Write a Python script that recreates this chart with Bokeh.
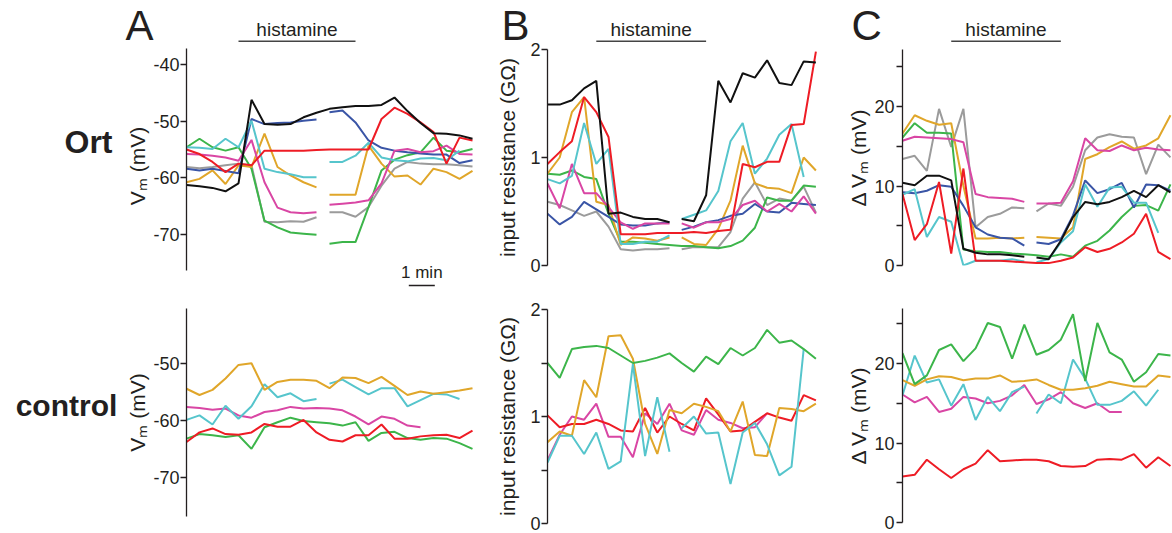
import numpy as np
from bokeh.plotting import figure
from bokeh.models import Range1d, FixedTicker
from bokeh.core.properties import value
from bokeh.layouts import row, column
from bokeh.embed import file_html
from bokeh.resources import INLINE

nan = float("nan")

# time axis (min); recording break between index 10 and 11
time_min = [0.5 * i for i in range(23)]
gap_after = 10
histamine_on = 2.0
histamine_off = 6.5
scale_bar_start = 8.55
scale_bar_len = 1.0

# ---------------- Ort: membrane potential (mV) ----------------
ort_vm_black = [-61.3, -61.5, -61.8, -62.4, -61.0, -46.2, -50.5, -50.6, -50.5, -49.3, -48.5, -47.8, -47.5, -47.3, -47.3, -47.1, -45.8, -48.2, -50.3, -52.1, -52.2, -52.5, -53.1]
ort_vm_red = [-55.0, -55.8, -57.2, -59.0, -57.5, -57.8, -55.2, -55.2, -55.2, -55.2, -55.1, -55.0, -55.0, -55.0, -55.0, -49.6, -47.6, -48.7, -50.2, -51.9, -57.5, -52.9, -53.4]
ort_vm_blue = [-58.4, -58.7, -58.4, -58.8, -59.2, -49.6, -50.5, -50.3, -50.2, -49.9, -49.7, -48.4, -48.1, -50.2, -53.4, -54.7, -55.2, -55.5, -55.7, -55.9, -55.9, -57.4, -56.9]
ort_vm_cyan = [-54.6, -54.7, -54.9, -53.1, -54.6, -49.9, -58.4, -59.0, -59.4, -59.9, -59.9, -57.2, -57.2, -56.1, -53.8, -56.4, -56.9, -57.1, -56.6, -56.5, -56.9, -55.2, nan]
ort_vm_yellow = [-60.8, -60.2, -58.7, -61.1, -57.8, -58.1, -52.2, -58.1, -59.6, -60.8, -61.7, -63.0, -63.0, -63.0, -54.3, -57.5, -59.8, -59.6, -61.2, -58.4, -59.0, -60.2, -58.8]
ort_vm_green = [-54.6, -53.1, -54.6, -55.2, -54.6, -58.4, -67.6, -68.8, -69.7, -69.9, -70.1, -71.7, -71.4, -71.4, -65.2, -58.7, -56.8, -56.0, -55.5, -52.9, -55.2, -55.5, -54.9]
ort_vm_pink = [-55.8, -55.9, -56.1, -56.4, -57.0, -53.3, -60.8, -65.3, -66.1, -66.3, -66.1, -64.8, -64.6, -64.4, -64.0, -61.0, -55.2, -54.9, -55.5, -55.3, -54.3, -55.8, -55.9]
ort_vm_gray = [-58.1, -58.3, -58.1, -57.8, -57.5, -57.8, -67.8, -67.9, -67.7, -67.8, -67.0, -66.1, -66.1, -66.9, -65.2, -61.4, -58.4, -57.2, -57.5, -57.6, -57.6, -57.8, -58.0]

# ---------------- Ort: input resistance (GOhm) ----------------
ort_rin_black = [1.49, 1.49, 1.53, 1.64, 1.71, 0.48, 0.49, 0.45, 0.43, 0.43, 0.40, 0.43, 0.41, 0.65, 1.71, 1.51, 1.78, 1.74, 1.90, 1.69, 1.67, 1.89, 1.88]
ort_rin_red = [0.94, 1.05, 1.15, 1.56, 1.42, 1.19, 0.29, 0.29, 0.29, 0.30, 0.30, 0.30, 0.31, 0.30, 0.32, 0.33, 0.94, 0.91, 0.96, 0.96, 1.30, 1.31, 1.98]
ort_rin_yellow = [0.85, 1.00, 1.42, 1.56, 0.59, 0.56, 0.19, 0.26, 0.25, 0.23, 0.26, 0.26, 0.20, 0.19, 0.34, 0.60, 1.11, 0.76, 0.72, 0.71, 0.67, 1.00, 0.88]
ort_rin_cyan = [0.80, 0.76, 0.83, 1.32, 0.94, 1.08, 0.20, 0.20, 0.22, 0.22, 0.28, 0.43, 0.47, 0.51, 0.69, 1.15, 1.32, 0.85, 0.99, 1.21, 1.31, 0.82, nan]
ort_rin_green = [0.85, 0.84, 0.88, 0.82, 0.80, 0.48, 0.22, 0.22, 0.21, 0.20, 0.19, 0.18, 0.18, 0.17, 0.16, 0.18, 0.23, 0.35, 0.63, 0.60, 0.60, 0.74, 0.73]
ort_rin_pink = [0.76, 0.53, 0.94, 0.67, 0.67, 0.54, 0.40, 0.34, 0.39, 0.39, 0.39, 0.39, 0.35, 0.40, 0.40, 0.43, 0.56, 0.60, 0.50, 0.57, 0.50, 0.64, 0.48]
ort_rin_blue = [0.48, 0.38, 0.45, 0.59, 0.52, 0.45, 0.38, 0.37, 0.37, 0.39, 0.40, 0.33, 0.36, 0.40, 0.42, 0.46, 0.48, 0.57, 0.50, 0.49, 0.58, 0.57, 0.56]
ort_rin_gray = [0.59, 0.56, 0.51, 0.46, 0.50, 0.36, 0.15, 0.14, 0.15, 0.15, 0.16, 0.15, 0.17, 0.17, 0.17, 0.31, 0.62, 0.77, 0.56, 0.62, 0.60, 0.73, 0.49]

# ---------------- Ort: delta Vm (mV) ----------------
ort_dvm_black = [10.4, 10.1, 11.3, 11.3, 10.7, 2.1, 1.6, 1.4, 1.4, 1.3, 1.1, 1.0, 0.8, 3.1, 6.1, 8.0, 7.7, 8.0, 8.6, 9.4, 8.6, 10.1, 9.2]
ort_dvm_red = [9.0, 3.2, 5.2, 10.5, 1.5, 12.2, 0.6, 0.6, 0.6, 0.5, 0.4, 0.3, 0.3, 0.6, 1.0, 2.3, 1.7, 2.1, 2.9, 4.0, 6.5, 1.7, 0.8]
ort_dvm_yellow = [16.6, 18.9, 18.2, 17.7, 17.9, 10.0, 3.4, 3.4, 3.5, 3.4, 3.5, 3.6, 3.5, 3.4, 4.8, 13.4, 14.0, 14.9, 15.6, 14.7, 15.1, 16.0, 18.9]
ort_dvm_green = [16.1, 17.9, 16.7, 16.7, 16.6, 2.0, 1.8, 1.7, 1.7, 1.5, 1.4, 1.3, 1.1, 1.4, 1.1, 2.5, 3.1, 4.4, 6.1, 7.5, 7.6, 6.9, 10.2]
ort_dvm_pink = [15.7, 16.2, 16.1, 16.0, 15.9, 15.5, 9.0, 8.6, 8.5, 8.4, 8.0, 7.8, 7.8, 7.9, 10.6, 16.0, 14.5, 14.4, 15.1, 14.5, 14.8, 14.6, 14.5]
ort_dvm_gray = [13.4, 13.8, 11.9, 19.7, 14.9, 19.7, 4.8, 6.1, 6.5, 7.3, 7.2, 6.8, 7.8, 7.5, 9.9, 14.5, 16.1, 16.5, 16.2, 16.1, 11.5, 15.2, 13.6]
ort_dvm_blue = [9.2, 9.1, 9.4, 10.1, 9.9, 7.5, 4.8, 3.9, 3.5, 3.4, 2.5, 2.9, 2.7, 3.3, 6.3, 10.7, 9.1, 9.6, 10.4, 7.3, 10.2, 10.1, 9.4]
ort_dvm_cyan = [8.9, 9.6, 3.6, 6.1, 5.5, 0.0, 0.6, 0.6, 0.6, 0.8, 0.5, 0.4, 0.8, 2.9, 4.3, 10.2, 7.4, 9.8, 9.9, 7.9, 7.9, 4.1, nan]

# ---------------- control: membrane potential (mV) ----------------
ctl_vm_yellow = [-54.4, -55.5, -54.6, -52.6, -50.2, -49.9, -54.6, -53.2, -52.8, -52.8, -53.0, -54.3, -52.4, -52.5, -53.4, -52.3, -53.9, -55.5, -54.9, -55.3, -55.0, -54.7, -54.3]
ctl_vm_cyan = [-59.9, -59.1, -60.7, -57.4, -59.7, -57.5, -53.6, -55.9, -55.2, -56.6, -56.2, -53.5, -52.8, -54.1, -55.4, -54.3, -54.3, -57.5, -56.4, -55.3, -55.4, -56.2, nan]
ctl_vm_pink = [-57.6, -57.8, -58.1, -57.9, -59.1, -59.5, -58.5, -58.2, -57.6, -57.9, -57.8, -57.9, -58.2, -59.3, -60.7, -59.3, -59.7, -60.9, -61.2, nan, nan, nan, nan]
ctl_vm_red = [-63.8, -62.1, -61.4, -62.4, -62.5, -62.1, -60.6, -61.1, -61.1, -59.9, -62.1, -63.4, -63.7, -62.6, -62.6, -60.7, -63.2, -63.2, -62.8, -62.6, -62.5, -63.1, -61.8]
ctl_vm_green = [-63.2, -62.4, -62.6, -62.9, -62.6, -65.0, -61.2, -60.3, -59.5, -60.1, -60.3, -60.5, -60.9, -60.3, -63.6, -62.2, -62.0, -63.1, -63.4, -63.1, -63.2, -64.0, -65.0]

# ---------------- control: input resistance (GOhm) ----------------
ctl_rin_green = [1.50, 1.36, 1.63, 1.65, 1.66, 1.64, 1.57, 1.50, 1.52, 1.55, 1.59, 1.50, 1.42, 1.56, 1.49, 1.64, 1.57, 1.64, 1.81, 1.69, 1.71, 1.63, 1.54]
ctl_rin_yellow = [0.76, 0.86, 0.82, 1.34, 1.18, 1.75, 1.76, 1.54, 0.93, 0.65, 1.06, 1.03, 1.12, 1.09, 1.05, 0.86, 1.14, 0.64, 0.63, 1.08, 1.07, 1.05, 1.12]
ctl_rin_red = [1.01, 0.90, 0.93, 0.93, 0.97, 0.93, 0.87, 0.86, 1.08, 0.85, 1.00, 0.93, 0.87, 1.17, 1.02, 0.86, 0.87, 0.95, 1.03, 0.99, 0.96, 1.20, 1.15]
ctl_rin_pink = [0.59, 0.83, 1.00, 0.97, 1.12, 0.81, 0.81, 0.62, 1.03, 0.93, 1.12, 0.87, 0.83, 1.06, 0.97, 0.94, 0.89, 0.90, 1.03, nan, nan, nan, nan]
ctl_rin_cyan = [0.57, 0.82, 0.82, 0.65, 0.85, 0.51, 0.58, 1.49, 0.63, 1.18, 0.67, 0.89, 1.00, 0.84, 0.85, 0.37, 0.85, 0.94, 0.74, 0.45, 0.53, 1.63, nan]

# ---------------- control: delta Vm (mV) ----------------
ctl_dvm_green = [21.3, 17.4, 18.5, 21.7, 22.4, 20.3, 21.9, 25.1, 24.6, 20.6, 24.9, 21.1, 21.7, 23.0, 26.2, 17.8, 25.1, 21.4, 20.5, 17.7, 18.9, 21.2, 21.0]
ctl_dvm_yellow = [17.9, 17.2, 18.0, 18.4, 18.3, 17.9, 18.1, 18.1, 18.5, 17.7, 17.8, 18.0, 17.3, 16.7, 16.7, 16.9, 17.2, 17.7, 17.4, 17.1, 17.1, 18.5, 18.3]
ctl_dvm_cyan = [16.0, 21.0, 17.6, 18.0, 14.7, 17.4, 12.9, 15.8, 14.0, 16.4, 17.1, 13.7, 16.1, 15.0, 20.5, 18.1, 14.8, 14.8, 15.3, 16.5, 14.7, 16.7, nan]
ctl_dvm_pink = [16.1, 15.1, 15.8, 13.9, 14.3, 15.8, 15.6, 15.0, 15.3, 16.0, 17.3, 14.9, 15.5, 16.4, 15.0, 14.4, 15.0, 13.9, 13.9, nan, nan, nan, nan]
ctl_dvm_red = [5.8, 6.0, 7.9, 6.7, 5.6, 6.7, 7.4, 9.1, 7.7, 7.8, 7.9, 7.9, 7.7, 7.1, 7.0, 7.1, 7.9, 8.0, 7.9, 8.6, 6.9, 8.2, 7.1]

COLORS = {
    "black": "#111111", "red": "#ee1c25", "green": "#3cb54a", "blue": "#3a55a6",
    "yellow": "#e0a62a", "cyan": "#56c5cc", "pink": "#d946a4", "gray": "#9b9b9b",
}
FONT = "Liberation Sans"
INK = "#231f20"

# ---- page geometry (px) ----
TOTAL_W = 1172
HEADER = (0, 50)        # top, height (panels below overlap its lower part; they are transparent)
OVERLAP = 14
ROW1 = (36, 262)        # canvas top, height
ROW2 = (298, 235)
LABEL_W = 122
# canvas left, width, frame left, frame right, px per minute
COLS = [(122, 368, 186, 475, 26.0), (490, 345, 547, 817, 24.4), (835, 337, 902, 1172, 24.36)]


def blank(width, top, height, xr=None):
    """Figure without axes whose y range is in page pixels (smaller value = higher)."""
    p = figure(width=width, height=height,
               x_range=xr if xr is not None else Range1d(0, width),
               y_range=Range1d(top + height, top),
               x_axis_location=None, y_axis_location=None, min_border=0,
               background_fill_color=None, border_fill_color=None,
               output_backend="svg", toolbar_location=None)
    p.grid.visible = False
    p.outline_line_color = None
    return p


def make_panel(col, rowg, frame_top, frame_bottom, y_top, y_bottom, ticks, labels, ylabel,
               tick_standoff, lab_standoff, bounds=None):
    cl, cw, fl, fr, ppm = col
    ct, ch = rowg
    p = figure(width=cw, height=ch,
               min_border_left=fl - cl, min_border_right=cl + cw - fr,
               min_border_top=frame_top - ct, min_border_bottom=ct + ch - frame_bottom,
               x_range=Range1d(0, (fr - fl) / ppm), y_range=Range1d(y_bottom, y_top),
               background_fill_color=None, border_fill_color=None,
               output_backend="svg", toolbar_location=None)
    p.xaxis.visible = False
    p.grid.visible = False
    p.outline_line_color = None
    ax = p.yaxis[0]
    ax.ticker = FixedTicker(ticks=ticks)
    ax.major_label_overrides = {t: s for t, s in zip(ticks, labels)}
    if bounds is not None:
        ax.bounds = bounds
    ax.axis_label = ylabel
    ax.axis_line_color = INK
    ax.axis_line_width = 1.3
    ax.major_tick_line_color = INK
    ax.major_tick_line_width = 1.3
    ax.major_tick_out = 6
    ax.major_tick_in = 0
    ax.minor_tick_line_color = None
    ax.major_label_text_font = FONT
    ax.major_label_text_font_size = "18px"
    ax.major_label_text_color = INK
    ax.major_label_standoff = tick_standoff
    ax.axis_label_text_font = FONT
    ax.axis_label_text_font_size = "21px"
    ax.axis_label_text_font_style = "normal"
    ax.axis_label_text_color = INK
    ax.axis_label_standoff = lab_standoff
    return p


def draw(p, series, gapped):
    t = np.array(time_min, dtype=float)
    for name, vals in series:
        y = np.array(vals, dtype=float)
        if name in gapped:
            parts = [(t[:gap_after + 1], y[:gap_after + 1]), (t[gap_after + 1:], y[gap_after + 1:])]
        else:
            parts = [(t, y)]
        for xs, ys in parts:
            p.line(xs, ys, line_color=COLORS[name], line_width=2.0)


def col_range(col):
    cl, cw, fl, fr, ppm = col
    return Range1d(-fl / ppm, (TOTAL_W - fl) / ppm)


# ---- header: panel letters, histamine bars (time-aligned with each column) ----
header = blank(TOTAL_W, *HEADER)
header.background_fill_color = "white"
header.border_fill_color = "white"
for key, col, letter_px in zip("ABC", COLS, [125, 501, 851]):
    fl, ppm = col[2], col[4]
    header.extra_x_ranges[key] = col_range(col)
    header.text(x=[(letter_px - fl) / ppm], y=[25], text=[key], x_range_name=key,
                text_font=value(FONT), text_font_size=value("42px"), text_color=INK,
                text_align="left", text_baseline="middle")
    header.text(x=[(histamine_on + histamine_off) / 2], y=[28.5], text=["histamine"], x_range_name=key,
                text_font=value(FONT), text_font_size=value("19px"), text_color=INK,
                text_align="center", text_baseline="middle")
    header.segment(x0=[histamine_on], x1=[histamine_off], y0=[40.8], y1=[40.8],
                   x_range_name=key, line_color="#444444", line_width=1.6)

# ---- row labels ----
lab1 = blank(LABEL_W, *ROW1)
lab1.text(x=[88], y=[141], text=["Ort"], text_font=value(FONT),
          text_font_style=value("bold"), text_font_size=value("32px"), text_color=INK,
          text_align="center", text_baseline="middle")
lab2 = blank(LABEL_W, *ROW2)
lab2.text(x=[66], y=[405], text=["control"], text_font=value(FONT),
          text_font_style=value("bold"), text_font_size=value("30px"), text_color=INK,
          text_align="center", text_baseline="middle")

# ---- top row (Ort) ----
VM_PX = 5.647  # px per mV, panel A (top)
a1 = make_panel(COLS[0], ROW1, 42, 289, -40 + (64.3 - 42) / VM_PX, -40 - (289 - 64.3) / VM_PX,
                [-70, -60, -50, -40], ["-70", "-60", "-50", "-40"], "Vₘ (mV)", 1, 1,
                bounds=(-40 - (270 - 64.3) / VM_PX, -40 + (64.3 - 48) / VM_PX))
draw(a1, [("gray", ort_vm_gray), ("green", ort_vm_green), ("yellow", ort_vm_yellow), ("blue", ort_vm_blue),
          ("pink", ort_vm_pink), ("cyan", ort_vm_cyan), ("red", ort_vm_red), ("black", ort_vm_black)],
     {"gray", "green", "yellow", "blue", "pink", "cyan"})
a1.text(x=[scale_bar_start + scale_bar_len / 2], y=[-40 - (272 - 64.3) / VM_PX], text=["1 min"],
        text_font=value(FONT), text_font_size=value("17px"), text_color=INK,
        text_align="center", text_baseline="middle")
a1.segment(x0=[scale_bar_start], x1=[scale_bar_start + scale_bar_len],
           y0=[-40 - (285 - 64.3) / VM_PX], y1=[-40 - (285 - 64.3) / VM_PX], line_color=INK, line_width=1.5)

b1 = make_panel(COLS[1], ROW1, 49, 265, 2, 0, [0, 1, 2], ["0", "1", "2"], "input resistance (GΩ)", 1, 8)
draw(b1, [("gray", ort_rin_gray), ("green", ort_rin_green), ("yellow", ort_rin_yellow), ("blue", ort_rin_blue),
          ("pink", ort_rin_pink), ("cyan", ort_rin_cyan), ("red", ort_rin_red), ("black", ort_rin_black)],
     {"gray", "yellow", "blue", "pink", "cyan", "black"})

c1 = make_panel(COLS[2], ROW1, 49, 265, 27.17, 0,
                [0, 5, 10, 15, 20, 25], ["0", "", "10", "", "20", ""], "Δ Vₘ (mV)", 2, 1)
draw(c1, [("gray", ort_dvm_gray), ("green", ort_dvm_green), ("yellow", ort_dvm_yellow), ("blue", ort_dvm_blue),
          ("pink", ort_dvm_pink), ("cyan", ort_dvm_cyan), ("red", ort_dvm_red), ("black", ort_dvm_black)],
     {"gray", "yellow", "blue", "pink", "cyan", "black"})

# ---- bottom row (control) ----
a2 = make_panel(COLS[0], ROW2, 308, 516, -40.25, -76.93,
                [-70, -60, -50], ["-70", "-60", "-50"], "Vₘ (mV)", 1, 1)
draw(a2, [("green", ctl_vm_green), ("red", ctl_vm_red), ("pink", ctl_vm_pink), ("cyan", ctl_vm_cyan),
          ("yellow", ctl_vm_yellow)], {"cyan"})

b2 = make_panel(COLS[1], ROW2, 309, 523, 2, 0,
                [0, 0.5, 1, 1.5, 2], ["0", "", "1", "", "2"], "input resistance (GΩ)", 1, 8)
draw(b2, [("pink", ctl_rin_pink), ("red", ctl_rin_red), ("yellow", ctl_rin_yellow), ("cyan", ctl_rin_cyan),
          ("green", ctl_rin_green)], {"cyan"})

c2 = make_panel(COLS[2], ROW2, 308, 522, (522 - 308) / 7.95, 0,
                [0, 5, 10, 15, 20, 25], ["0", "", "10", "", "20", ""], "Δ Vₘ (mV)", 2, 1)
draw(c2, [("red", ctl_dvm_red), ("pink", ctl_dvm_pink), ("cyan", ctl_dvm_cyan), ("yellow", ctl_dvm_yellow),
          ("green", ctl_dvm_green)], {"cyan"})

panels = row(column(lab1, lab2), column(a1, a2), column(b1, b2), column(c1, c2),
             styles={"margin-top": f"-{OVERLAP}px"})
layout = column(header, panels)
html = file_html(layout, INLINE, title="Ort histamine recordings")
html = html.replace("</head>", "<style>html, body { overflow: hidden; }</style></head>", 1)
open("out.html", "w").write(html)
